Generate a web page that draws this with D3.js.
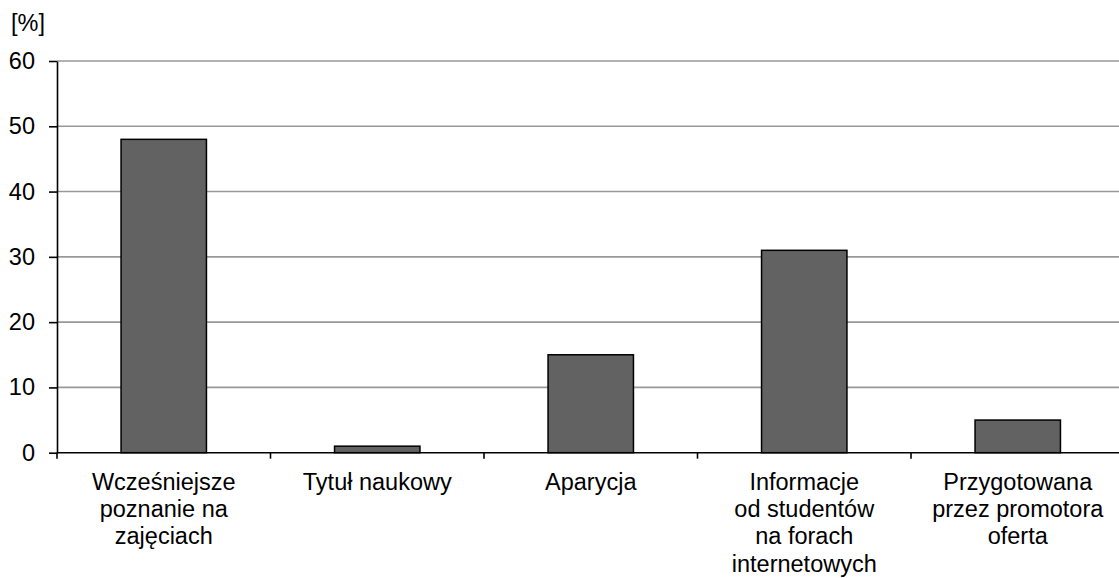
<!DOCTYPE html>
<html>
<head>
<meta charset="utf-8">
<script src="https://cdn.jsdelivr.net/npm/d3@7"></script>
<style>
  html, body { margin: 0; padding: 0; background: #fff; }
  svg { display: block; font-family: "Liberation Sans", Arial, sans-serif; }
</style>
</head>
<body>
<svg id="chart" width="1119" height="578"></svg>
<script>
const categories = [
  "Wcześniejsze\npoznanie na\nzajęciach",
  "Tytuł naukowy",
  "Aparycja",
  "Informacje\nod studentów\nna forach\ninternetowych",
  "Przygotowana\nprzez promotora\noferta"
];
const values = [48, 1, 15, 31, 5];
const yTicks = [0, 10, 20, 30, 40, 50, 60];
const yUnit = "[%]";

(function () {
const svg = d3.select("#chart");
const W = 1119, H = 578;
const plotLeft = 57, plotBottom = 452.7, plotTop = 61;
const step = 213.5;
const fontSize = 23.5;

const x = d3.scaleBand()
  .domain(categories)
  .range([plotLeft, plotLeft + step * categories.length])
  .paddingInner(0.6)
  .paddingOuter(0.3);

const y = d3.scaleLinear().domain([0, 60]).range([plotBottom, plotTop]);

svg.append("defs").append("clipPath").attr("id", "clip")
  .append("rect").attr("x", 0).attr("y", 0).attr("width", W).attr("height", H);

const g = svg.append("g").attr("clip-path", "url(#clip)");

// gridlines
g.append("g").selectAll("line")
  .data(yTicks.filter(d => d > 0))
  .join("line")
  .attr("x1", plotLeft).attr("x2", plotLeft + step * categories.length)
  .attr("y1", d => y(d)).attr("y2", d => y(d))
  .attr("stroke", "#999").attr("stroke-width", 1.6);

// bars
g.append("g").selectAll("rect")
  .data(values)
  .join("rect")
  .attr("x", (d, i) => x(categories[i]))
  .attr("width", x.bandwidth())
  .attr("y", d => y(d))
  .attr("height", d => plotBottom - y(d))
  .attr("fill", "#626262")
  .attr("stroke", "#000")
  .attr("stroke-width", 1.5);

// y axis
const yAxis = d3.axisLeft(y).tickValues(yTicks).tickSize(8).tickPadding(14).tickSizeOuter(0);
const ya = svg.append("g").attr("transform", `translate(${plotLeft},0)`).call(yAxis);
ya.select(".domain").attr("stroke", "#000").attr("stroke-width", 1.6);
ya.selectAll(".tick line").attr("stroke", "#000").attr("stroke-width", 1.6);
ya.selectAll(".tick text").attr("font-size", fontSize).attr("fill", "#000")
  .attr("font-family", "Liberation Sans, Arial, sans-serif");

// x axis baseline
g.append("line")
  .attr("x1", plotLeft).attr("x2", plotLeft + step * categories.length)
  .attr("y1", plotBottom).attr("y2", plotBottom)
  .attr("stroke", "#000").attr("stroke-width", 1.6);

// x ticks at category boundaries
const boundaries = d3.range(categories.length + 1).map(i => x.range()[0] + i * x.step());
g.append("g").selectAll("line")
  .data(boundaries)
  .join("line")
  .attr("x1", d => d).attr("x2", d => d)
  .attr("y1", plotBottom).attr("y2", plotBottom + 6)
  .attr("stroke", "#000").attr("stroke-width", 1.6);

// x labels
const lh = 27.4;
const labels = svg.append("g").selectAll("text")
  .data(categories)
  .join("text")
  .attr("text-anchor", "middle")
  .attr("font-size", fontSize)
  .attr("fill", "#000")
  .attr("transform", d => `translate(${x(d) + x.bandwidth() / 2},${plotBottom + 36.8})`);
labels.selectAll("tspan")
  .data(d => d.split("\n"))
  .join("tspan")
  .attr("x", 0)
  .attr("y", (d, i) => i * lh)
  .text(d => d);

// unit label
svg.append("text")
  .attr("x", 11).attr("y", 31)
  .attr("font-size", fontSize)
  .attr("fill", "#000")
  .text(yUnit);
})();
</script>
</body>
</html>
